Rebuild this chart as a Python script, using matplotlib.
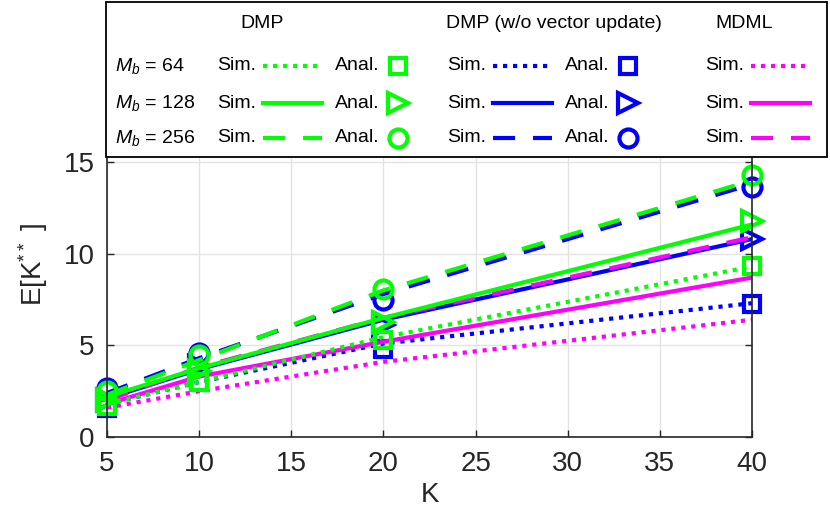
import matplotlib.pyplot as plt
from matplotlib.patches import Rectangle

plt.rcParams['font.family'] = ['Liberation Sans', 'DejaVu Sans']
plt.rcParams['mathtext.fontset'] = 'custom'
plt.rcParams['mathtext.rm'] = 'Liberation Sans'
plt.rcParams['mathtext.it'] = 'Liberation Sans:italic'

# x values (number of users K)
K = [5, 10, 20, 40]

# DMP simulation (M_b = 64, 128, 256)
dmp_sim_64 = [1.8, 3.0, 5.45, 9.3]
dmp_sim_128 = [2.2, 3.75, 6.5, 11.6]
dmp_sim_256 = [2.3, 4.2, 8.0, 14.0]
# DMP analytical
dmp_anal_64 = [1.7, 3.0, 5.3, 9.35]
dmp_anal_128 = [2.0, 3.6, 6.3, 11.8]
dmp_anal_256 = [2.5, 4.45, 8.05, 14.3]

# DMP without vector update, simulation
wo_sim_64 = [1.8, 3.0, 5.1, 7.3]
wo_sim_128 = [2.1, 3.7, 6.4, 10.8]
wo_sim_256 = [2.4, 4.3, 7.8, 13.8]
# DMP without vector update, analytical
wo_anal_64 = [1.6, 3.0, 4.8, 7.25]
wo_anal_128 = [2.0, 3.9, 6.1, 10.8]
wo_anal_256 = [2.7, 4.6, 7.5, 13.65]

# MDML simulation
mdml_sim_64 = [1.6, 2.5, 4.1, 6.4]
mdml_sim_128 = [1.8, 3.3, 5.2, 8.7]
mdml_sim_256 = [2.0, 3.8, 6.5, 10.9]

GREEN = '#00ff00'
BLUE = '#0000ff'
MAGENTA = '#ff00ff'
DOT = (0, (1, 1.4))
DASH = (0, (5.3, 4.3))
LW = 3
DARK = '#262626'

fig = plt.figure(figsize=(8.3, 5.17), dpi=100)
ax = fig.add_axes([107 / 830, 80 / 517, 645 / 830, 344.5 / 517])

# blue first, then magenta, then green on top
ax.plot(K, wo_sim_64, color=BLUE, lw=LW, ls=DOT)
ax.plot(K, wo_sim_128, color=BLUE, lw=LW, ls='-')
ax.plot(K, wo_sim_256, color=BLUE, lw=LW, ls=DASH)
ax.plot(K, wo_anal_64, color=BLUE, ls='none', marker='s', ms=11, mew=3, mfc='none', clip_on=False)
ax.plot(K, wo_anal_128, color=BLUE, ls='none', marker='>', ms=15, mew=3, mfc='none', clip_on=False)
ax.plot(K, wo_anal_256, color=BLUE, ls='none', marker='o', ms=13, mew=3, mfc='none', clip_on=False)

ax.plot(K, mdml_sim_64, color=MAGENTA, lw=LW, ls=DOT)
ax.plot(K, mdml_sim_128, color=MAGENTA, lw=LW, ls='-')
ax.plot(K, mdml_sim_256, color=MAGENTA, lw=LW, ls=DASH)

ax.plot(K, dmp_sim_64, color=GREEN, lw=LW, ls=DOT)
ax.plot(K, dmp_sim_128, color=GREEN, lw=LW, ls='-')
ax.plot(K, dmp_sim_256, color=GREEN, lw=LW, ls=DASH)
ax.plot(K, dmp_anal_64, color=GREEN, ls='none', marker='s', ms=11, mew=3, mfc='none', clip_on=False)
ax.plot(K, dmp_anal_128, color=GREEN, ls='none', marker='>', ms=15, mew=3, mfc='none', clip_on=False)
ax.plot(K, dmp_anal_256, color=GREEN, ls='none', marker='o', ms=13, mew=3, mfc='none', clip_on=False)

ax.set_xlim(5, 40)
ax.set_ylim(0, 18.8)
ax.set_xticks([5, 10, 15, 20, 25, 30, 35, 40])
ax.set_yticks([0, 5, 10, 15])
ax.grid(True, color='#e3e3e3', lw=1)
ax.set_axisbelow(True)
for s in ax.spines.values():
    s.set_color(DARK)
    s.set_linewidth(1.2)
ax.tick_params(direction='in', length=5, width=1, colors=DARK, labelsize=20,
               right=True, top=True)
ax.tick_params(axis='y', pad=9)
ax.tick_params(axis='x', pad=10)
ax.set_xlabel('K', fontsize=20, color=DARK, labelpad=4)
ax.set_ylabel(r'E[K$^{**}$ ]', fontsize=20, color=DARK, labelpad=10)

# custom legend box (pixel coordinates of the figure)
lg = fig.add_axes([0, 0, 1, 1])
lg.set_xlim(0, 830)
lg.set_ylim(517, 0)
lg.axis('off')
lg.add_patch(Rectangle((106, 2), 721, 155, facecolor='white', edgecolor='black', lw=1.3))

fs = 14
lg.text(262, 24, 'DMP', fontsize=fs, ha='center', va='center')
lg.text(554, 24, 'DMP (w/o vector update)', fontsize=fs, ha='center', va='center')
lg.text(744, 24, 'MDML', fontsize=fs, ha='center', va='center')

rows_y = [66, 103, 138]
row_labels = ['$M_b$ = 64', '$M_b$ = 128', '$M_b$ = 256']
styles = [DOT, '-', DASH]
markers = [('s', 11), ('>', 14), ('o', 13)]
for y, lab, st, (mk, ms) in zip(rows_y, row_labels, styles, markers):
    lg.text(115, y, lab, fontsize=fs, ha='left', va='center')
    for xs, col in [(217, GREEN), (447, BLUE), (705, MAGENTA)]:
        lg.text(xs, y, 'Sim.', fontsize=fs, ha='left', va='center')
        lg.plot([xs + 46, xs + 105], [y, y], color=col, lw=LW, ls=st)
    for xa, col in [(335, GREEN), (565, BLUE)]:
        lg.text(xa, y, 'Anal.', fontsize=fs, ha='left', va='center')
        lg.plot([xa + 63], [y], color=col, marker=mk, ms=ms, mew=3, mfc='none', ls='none')

fig.savefig('out.png', dpi=100)
